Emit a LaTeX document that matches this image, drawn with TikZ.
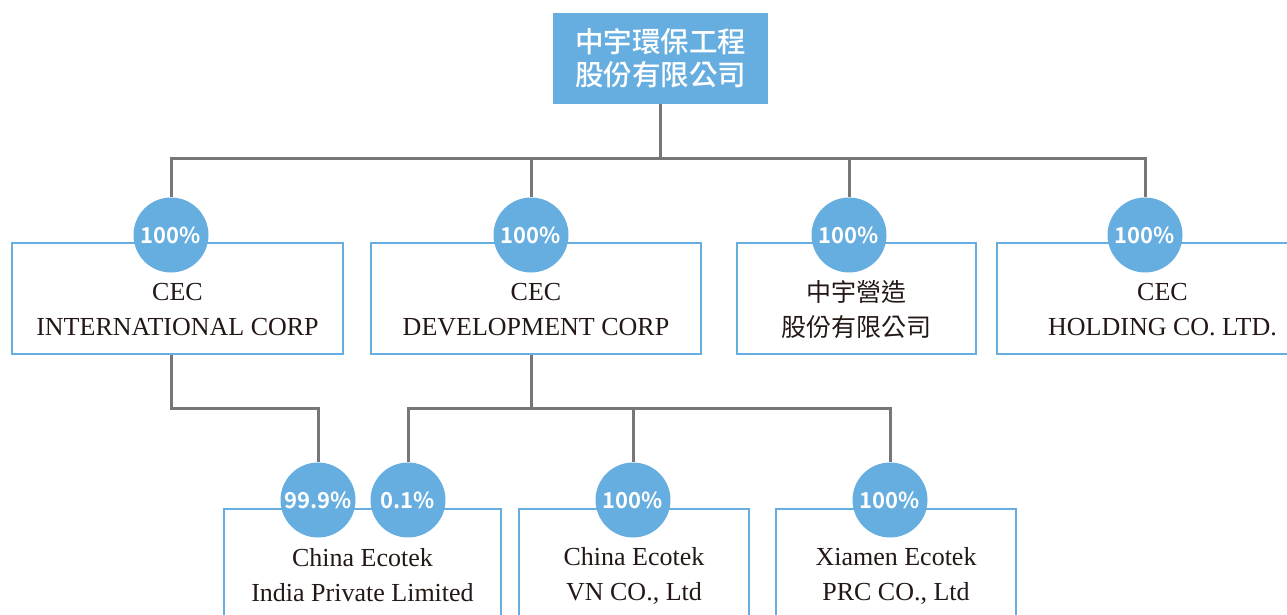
\documentclass[tikz,border=0pt]{standalone}
\usepackage{fontspec}
\setmainfont{Liberation Serif}
\newfontfamily\cjk{Noto Sans CJK TC}
\newfontfamily\cjkmid{Noto Sans CJK TC Medium}
\newfontfamily\cjkbold{Noto Sans CJK TC Bold}
\usetikzlibrary{positioning}
\definecolor{cecblue}{HTML}{67AEE0}
\definecolor{linkgray}{HTML}{777777}
\definecolor{inkdark}{HTML}{231815}

\begin{document}
\begin{tikzpicture}[x=1pt, y=-1pt,
    parent/.style={fill=cecblue, minimum width=215pt, minimum height=91pt, inner sep=0pt, text=white, align=center, font=\cjkmid\fontsize{28.5}{33}\selectfont},
    firm/.style={draw=cecblue, line width=2.5pt, minimum height=111pt, inner sep=0pt},
    firmname/.style={align=center, text=inkdark, inner sep=0pt, font=\fontsize{26}{35}\selectfont},
    share/.style={circle, fill=cecblue, minimum size=75pt, inner sep=0pt, text=white, font=\cjkbold\fontsize{22}{22}\selectfont},
    link/.style={draw=linkgray, line width=3pt}
  ]
  \clip (0,0) rectangle (1287,615);

  % parent company
  \node[parent] (root) at (660.5,58.5) {中宇環保工程\\股份有限公司};

  % first level
  \node[firm, minimum width=331pt] (intl)  at (177.5,298.5) {};
  \node[firm, minimum width=330pt] (dev)   at (536,298.5)   {};
  \node[firm, minimum width=239pt] (build) at (856.5,298.5) {};
  \node[firm, minimum width=331pt] (hold)  at (1162.5,298.5) {};
  \node[firmname] (intlName)  at ([yshift=-11pt]intl.center)  {CEC\\INTERNATIONAL CORP};
  \node[firmname] (devName)   at ([yshift=-11pt]dev.center)   {CEC\\DEVELOPMENT CORP};
  \node[firmname, font=\cjk\fontsize{25}{35}\selectfont] (buildName) at ([yshift=-11pt]build.center) {中宇營造\\股份有限公司};
  \node[firmname] (holdName)  at ([yshift=-11pt]hold.center)  {CEC\\HOLDING CO. LTD.};

  % second level
  \node[firm, minimum width=277pt] (india)  at (362.5,564.5) {};
  \node[firm, minimum width=230pt] (vn)     at (634,564.5)   {};
  \node[firm, minimum width=240pt] (xiamen) at (896,564.5)   {};
  \node[firmname] (indiaName)  at ([yshift=-11pt]india.center)  {China Ecotek\\India Private Limited};
  \node[firmname] (vnName)     at ([yshift=-11pt]vn.center)     {China Ecotek\\VN CO., Ltd};
  \node[firmname] (xiamenName) at ([yshift=-11pt]xiamen.center) {Xiamen Ecotek\\PRC CO., Ltd};

  % shares
  \node[share] (pIntl)  at (171,235)  {100\%};
  \node[share] (pDev)   at (531,235)  {100\%};
  \node[share] (pBuild) at (849,235)  {100\%};
  \node[share] (pHold)  at (1145,235) {100\%};
  \node[share] (pIndA)  at (318,500)  {99.9\%};
  \node[share] (pIndB)  at (408,500)  {0.1\%};
  \node[share] (pVn)    at (633,500)  {100\%};
  \node[share] (pXia)   at (890,500)  {100\%};

  % links
  \coordinate (bus)  at (0,158);
  \coordinate (bus2) at (0,408);
  \draw[link] (root.south) -- (root.south |- bus);
  \draw[link] (pIntl.north) |- (pHold.north |- bus) -- (pHold.north);
  \draw[link] (pDev.north) -- (pDev.north |- bus);
  \draw[link] (pBuild.north) -- (pBuild.north |- bus);
  \draw[link] (pIntl |- intl.south) |- (pIndA |- bus2) -- (pIndA.north);
  \draw[link] (pDev |- dev.south) -- (pDev |- bus2);
  \draw[link] (pIndB.north) |- (pXia |- bus2) -- (pXia.north);
  \draw[link] (pVn.north) -- (pVn |- bus2);
\end{tikzpicture}
\end{document}
